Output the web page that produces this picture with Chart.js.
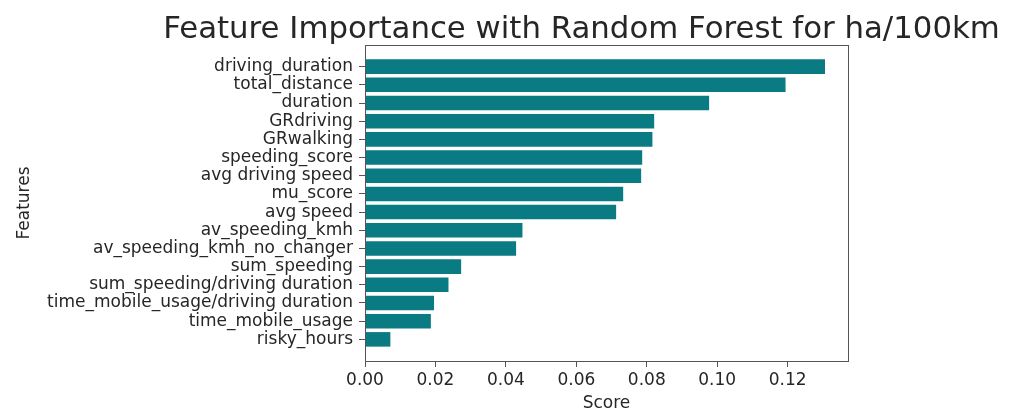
<!DOCTYPE html>
<html>
<head>
<meta charset="utf-8">
<script src="https://cdn.jsdelivr.net/npm/chart.js@4"></script>
<style>
  html, body { margin: 0; padding: 0; background: #ffffff; }
  #wrap { width: 1015px; height: 412px; position: relative; }
</style>
</head>
<body>
<div id="wrap"><canvas id="c" width="1015" height="412"></canvas></div>
<script>
const titleText = "Feature Importance with Random Forest for ha/100km";
const features = [
  "driving_duration", "total_distance", "duration", "GRdriving", "GRwalking",
  "speeding_score", "avg driving speed", "mu_score", "avg speed", "av_speeding_kmh",
  "av_speeding_kmh_no_changer", "sum_speeding", "sum_speeding/driving duration",
  "time_mobile_usage/driving duration", "time_mobile_usage", "risky_hours"
];
const scores = [
  0.1306, 0.1194, 0.0977, 0.0821, 0.0816,
  0.0787, 0.0784, 0.0733, 0.0713, 0.0447,
  0.0429, 0.0273, 0.0237, 0.0196, 0.0187, 0.0072
];
const xTickValues = [0, 0.02, 0.04, 0.06, 0.08, 0.10, 0.12];
const xLabel = "Score";
const yLabel = "Features";

const FONT = "'DejaVu Sans', sans-serif";
const TEXT = "#262626";
const AXIS = "#555555";

const frame = {
  id: "frame",
  afterDatasetsDraw(chart) {
    const a = chart.chartArea, ctx = chart.ctx;
    ctx.save();
    ctx.strokeStyle = AXIS;
    ctx.lineWidth = 1;
    ctx.strokeRect(Math.round(a.left) + 0.5, Math.round(a.top) + 0.5,
                   Math.round(a.right - a.left), Math.round(a.bottom - a.top));
    ctx.restore();
  }
};
const titlePlugin = {
  id: "mtitle",
  afterDraw(chart) {
    const ctx = chart.ctx;
    ctx.save();
    ctx.font = "30.8px " + FONT;
    ctx.fillStyle = TEXT;
    ctx.textAlign = "center";
    ctx.textBaseline = "alphabetic";
    ctx.fillText(titleText, 581.5, 38);
    ctx.restore();
  }
};

const data = features.map((f, i) => ({ x: scores[i], y: i }));
const maxScore = Math.max(...scores);

new Chart(document.getElementById("c"), {
  type: "bar",
  data: {
    datasets: [{
      data: data,
      backgroundColor: "#0a7b82",
      borderWidth: 0,
      barPercentage: 0.8,
      categoryPercentage: 1.0
    }]
  },
  options: {
    indexAxis: "y",
    responsive: false,
    animation: false,
    events: [],
    layout: { padding: { top: 45, right: 1015 - 848, left: 0, bottom: 0 } },
    plugins: { legend: { display: false }, tooltip: { enabled: false }, title: { display: false } },
    scales: {
      x: {
        type: "linear",
        min: 0,
        max: maxScore * 1.05,
        offset: false,
        afterFit(s) { s.height = 412 - 361; },
        afterBuildTicks(s) { s.ticks = xTickValues.map(v => ({ value: v })); },
        grid: { drawOnChartArea: false, drawTicks: true, tickLength: 6, offset: false, color: AXIS, tickColor: AXIS },
        border: { display: true, color: AXIS },
        ticks: {
          color: TEXT, font: { family: FONT, size: 17 }, padding: 3,
          maxRotation: 0, autoSkip: false,
          callback: v => Number(v).toFixed(2)
        },
        title: { display: true, text: xLabel, color: TEXT, font: { family: FONT, size: 17 }, padding: { top: 0, bottom: -2 } }
      },
      y: {
        type: "linear",
        reverse: true,
        offset: false,
        min: -0.4 - 0.79,
        max: features.length - 1 + 0.4 + 0.79,
        afterFit(s) { s.width = 365; },
        afterBuildTicks(s) { s.ticks = features.map((_, i) => ({ value: i })); },
        grid: { drawOnChartArea: false, drawTicks: true, tickLength: 6, offset: false, color: AXIS, tickColor: AXIS },
        border: { display: true, color: AXIS },
        ticks: {
          color: TEXT, font: { family: FONT, size: 17 }, padding: 6,
          autoSkip: false,
          callback: (v) => features[v] !== undefined ? features[v] : ""
        },
        title: { display: true, text: yLabel, color: TEXT, font: { family: FONT, size: 17 }, padding: { top: 14, bottom: 0 } }
      }
    }
  },
  plugins: [frame, titlePlugin]
});
</script>
</body>
</html>
